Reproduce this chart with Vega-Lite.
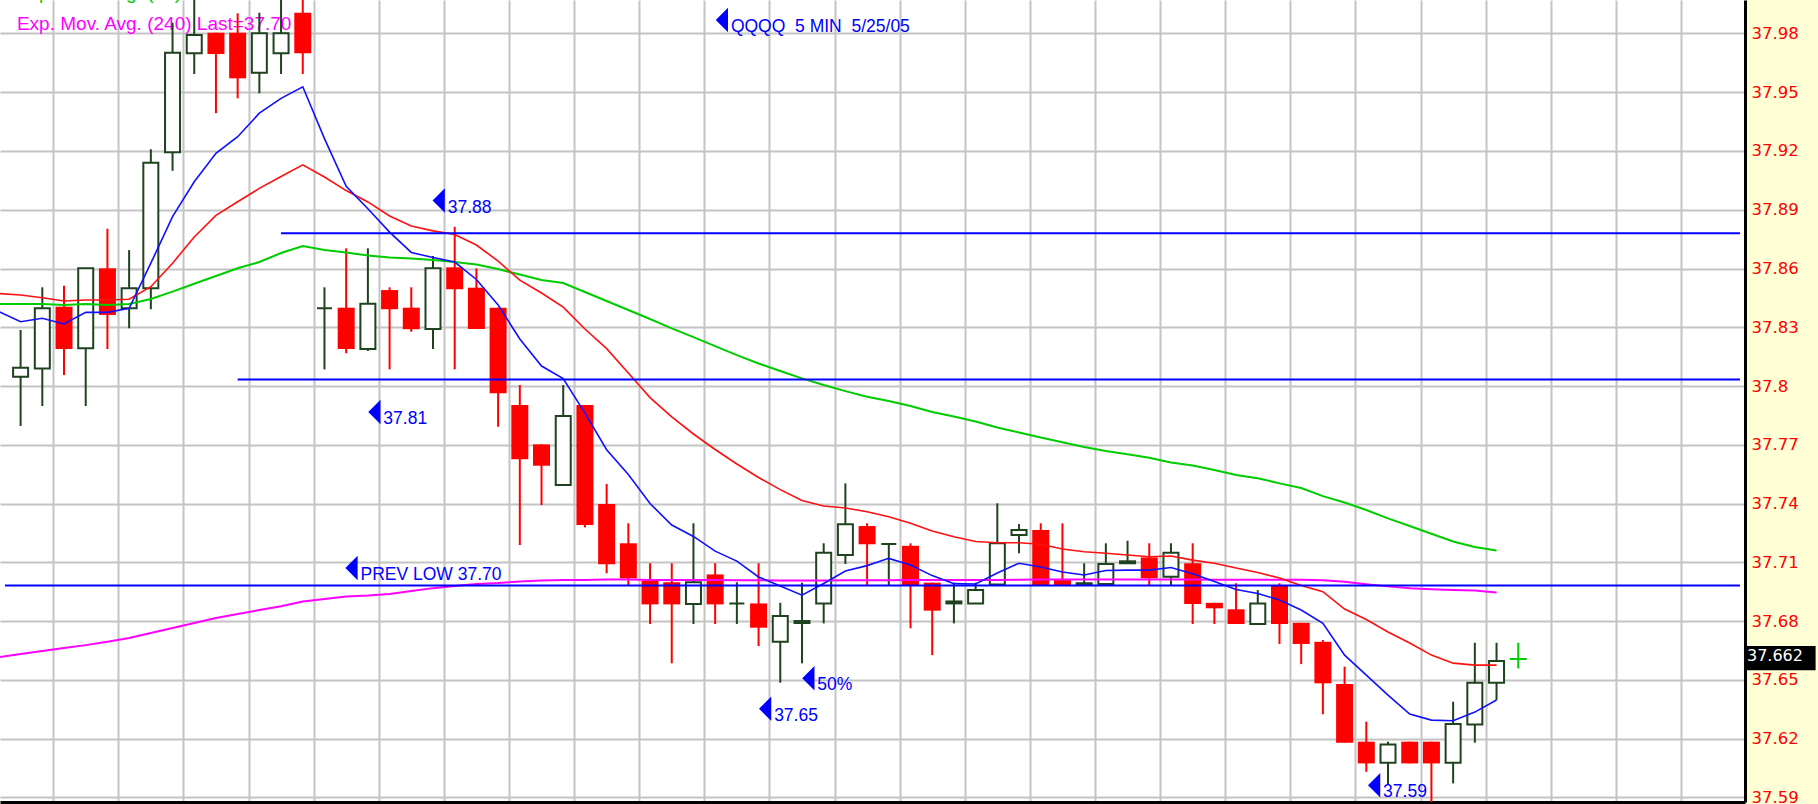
{
  "$schema": "https://vega.github.io/schema/vega-lite/v6.json",
  "width": 1745,
  "height": 802,
  "autosize": "none",
  "padding": {"left": 0, "top": 0, "right": 73, "bottom": 2},
  "background": "#FFFFD6",
  "view": {"fill": "#FFFFFF", "stroke": null},
  "config": {"font": "Liberation Sans"},
  "datasets": {
    "candles": [
      {"i":0,"o":37.8047,"h":37.8286,"l":37.7796,"c":37.8093},
      {"i":1,"o":37.809,"h":37.8504,"l":37.7898,"c":37.8397},
      {"i":2,"o":37.8405,"h":37.8512,"l":37.8056,"c":37.8189},
      {"i":3,"o":37.8193,"h":37.8601,"l":37.7898,"c":37.8601},
      {"i":4,"o":37.8601,"h":37.8803,"l":37.8189,"c":37.8363},
      {"i":5,"o":37.8397,"h":37.8694,"l":37.8295,"c":37.8499},
      {"i":6,"o":37.8499,"h":37.9209,"l":37.8392,"c":37.914},
      {"i":7,"o":37.9193,"h":37.9855,"l":37.9099,"c":37.9702},
      {"i":8,"o":37.9699,"h":38.01,"l":37.9593,"c":37.9792},
      {"i":9,"o":37.9804,"h":37.9804,"l":37.9393,"c":37.9695},
      {"i":10,"o":37.9804,"h":37.9903,"l":37.9469,"c":37.9571},
      {"i":11,"o":37.96,"h":37.9906,"l":37.9495,"c":37.9801},
      {"i":12,"o":37.9699,"h":38.01,"l":37.9593,"c":37.9801},
      {"i":13,"o":37.9906,"h":38.01,"l":37.9593,"c":37.9699},
      {"i":14,"o":37.8397,"h":37.8504,"l":37.8085,"c":37.8397},
      {"i":15,"o":37.84,"h":37.8703,"l":37.8167,"c":37.8189},
      {"i":16,"o":37.8189,"h":37.8703,"l":37.8179,"c":37.842},
      {"i":17,"o":37.849,"h":37.8504,"l":37.8085,"c":37.8392},
      {"i":18,"o":37.84,"h":37.8504,"l":37.8277,"c":37.829},
      {"i":19,"o":37.8291,"h":37.8664,"l":37.8189,"c":37.8601},
      {"i":20,"o":37.8606,"h":37.8813,"l":37.8085,"c":37.8494},
      {"i":21,"o":37.8502,"h":37.8601,"l":37.8291,"c":37.8291},
      {"i":22,"o":37.84,"h":37.84,"l":37.7792,"c":37.7963},
      {"i":23,"o":37.7903,"h":37.8005,"l":37.7188,"c":37.7626},
      {"i":24,"o":37.7702,"h":37.7702,"l":37.7392,"c":37.7593},
      {"i":25,"o":37.7494,"h":37.8005,"l":37.7494,"c":37.7847},
      {"i":26,"o":37.7903,"h":37.7903,"l":37.7278,"c":37.729},
      {"i":27,"o":37.7397,"h":37.75,"l":37.7044,"c":37.709},
      {"i":28,"o":37.7197,"h":37.7299,"l":37.6984,"c":37.7018},
      {"i":29,"o":37.7006,"h":37.7095,"l":37.6785,"c":37.6885},
      {"i":30,"o":37.6998,"h":37.7095,"l":37.6584,"c":37.6885},
      {"i":31,"o":37.6887,"h":37.7299,"l":37.6785,"c":37.6998},
      {"i":32,"o":37.7038,"h":37.7095,"l":37.6785,"c":37.6885},
      {"i":33,"o":37.689,"h":37.6998,"l":37.6785,"c":37.689},
      {"i":34,"o":37.689,"h":37.7095,"l":37.6672,"c":37.6766},
      {"i":35,"o":37.6694,"h":37.6893,"l":37.6485,"c":37.6826},
      {"i":36,"o":37.679,"h":37.6996,"l":37.6584,"c":37.68},
      {"i":37,"o":37.689,"h":37.7197,"l":37.6788,"c":37.7149},
      {"i":38,"o":37.7137,"h":37.7503,"l":37.7091,"c":37.7294},
      {"i":39,"o":37.7285,"h":37.7299,"l":37.6984,"c":37.7192},
      {"i":40,"o":37.7193,"h":37.7193,"l":37.6984,"c":37.7193},
      {"i":41,"o":37.7184,"h":37.7197,"l":37.6763,"c":37.6984},
      {"i":42,"o":37.6996,"h":37.6996,"l":37.6626,"c":37.6853},
      {"i":43,"o":37.689,"h":37.6996,"l":37.6788,"c":37.69},
      {"i":44,"o":37.689,"h":37.6996,"l":37.689,"c":37.6958},
      {"i":45,"o":37.6987,"h":37.7401,"l":37.6987,"c":37.7197},
      {"i":46,"o":37.7239,"h":37.7295,"l":37.7146,"c":37.7265},
      {"i":47,"o":37.7265,"h":37.7299,"l":37.6984,"c":37.6984},
      {"i":48,"o":37.7009,"h":37.7299,"l":37.6984,"c":37.6984},
      {"i":49,"o":37.6984,"h":37.7095,"l":37.6984,"c":37.6993},
      {"i":50,"o":37.6989,"h":37.7197,"l":37.6984,"c":37.7091},
      {"i":51,"o":37.7095,"h":37.721,"l":37.7095,"c":37.7105},
      {"i":52,"o":37.7125,"h":37.7197,"l":37.6984,"c":37.7018},
      {"i":53,"o":37.7026,"h":37.7197,"l":37.6984,"c":37.7149},
      {"i":54,"o":37.7095,"h":37.7197,"l":37.6785,"c":37.6887},
      {"i":55,"o":37.6893,"h":37.6893,"l":37.6785,"c":37.6865},
      {"i":56,"o":37.686,"h":37.6993,"l":37.6785,"c":37.6785},
      {"i":57,"o":37.6785,"h":37.6958,"l":37.6785,"c":37.689},
      {"i":58,"o":37.6984,"h":37.6993,"l":37.6683,"c":37.6785},
      {"i":59,"o":37.6791,"h":37.6791,"l":37.658,"c":37.6683},
      {"i":60,"o":37.6694,"h":37.6703,"l":37.6324,"c":37.6482},
      {"i":61,"o":37.6478,"h":37.6567,"l":37.6179,"c":37.6179},
      {"i":62,"o":37.6184,"h":37.6286,"l":37.603,"c":37.6073},
      {"i":63,"o":37.6077,"h":37.6184,"l":37.5963,"c":37.617},
      {"i":64,"o":37.6184,"h":37.6184,"l":37.6073,"c":37.6073},
      {"i":65,"o":37.6184,"h":37.6184,"l":37.585,"c":37.6073},
      {"i":66,"o":37.6077,"h":37.6388,"l":37.5971,"c":37.6274},
      {"i":67,"o":37.6272,"h":37.6689,"l":37.6179,"c":37.6485},
      {"i":68,"o":37.6485,"h":37.6689,"l":37.6397,"c":37.6596},
      {"i":69,"o":37.6606,"h":37.6689,"l":37.6558,"c":37.6606}
    ],
    "ma": [
      {"i":-1,"f":37.838,"m":37.8472,"s":37.8419,"e":37.6616},
      {"i":0,"f":37.8328,"m":37.8465,"s":37.8419,"e":37.6632},
      {"i":1,"f":37.8346,"m":37.8451,"s":37.8419,"e":37.6647},
      {"i":2,"f":37.8317,"m":37.8434,"s":37.8414,"e":37.6662},
      {"i":3,"f":37.8376,"m":37.8439,"s":37.8419,"e":37.6677},
      {"i":4,"f":37.8376,"m":37.8439,"s":37.8414,"e":37.6694},
      {"i":5,"f":37.8397,"m":37.8443,"s":37.8419,"e":37.6713},
      {"i":6,"f":37.8627,"m":37.8507,"s":37.8444,"e":37.6739},
      {"i":7,"f":37.8865,"m":37.8627,"s":37.8482,"e":37.6764},
      {"i":8,"f":37.9043,"m":37.8761,"s":37.8522,"e":37.679},
      {"i":9,"f":37.9188,"m":37.8871,"s":37.8562,"e":37.6815},
      {"i":10,"f":37.9273,"m":37.8941,"s":37.8601,"e":37.6836},
      {"i":11,"f":37.9393,"m":37.9009,"s":37.8633,"e":37.6856},
      {"i":12,"f":37.9469,"m":37.907,"s":37.8679,"e":37.6876},
      {"i":13,"f":37.9528,"m":37.9129,"s":37.8715,"e":37.69},
      {"i":14,"f":37.9263,"m":37.9067,"s":37.8694,"e":37.6912},
      {"i":15,"f":37.902,"m":37.8998,"s":37.8682,"e":37.6925},
      {"i":16,"f":37.8905,"m":37.894,"s":37.8666,"e":37.693},
      {"i":17,"f":37.8786,"m":37.8868,"s":37.8656,"e":37.6938},
      {"i":18,"f":37.8682,"m":37.8817,"s":37.8651,"e":37.6953},
      {"i":19,"f":37.8656,"m":37.8792,"s":37.8643,"e":37.6968},
      {"i":20,"f":37.8633,"m":37.8774,"s":37.8633,"e":37.6979},
      {"i":21,"f":37.8544,"m":37.872,"s":37.862,"e":37.6989},
      {"i":22,"f":37.8414,"m":37.8638,"s":37.8597,"e":37.6994},
      {"i":23,"f":37.824,"m":37.8541,"s":37.8569,"e":37.7002},
      {"i":24,"f":37.8102,"m":37.8475,"s":37.8541,"e":37.7007},
      {"i":25,"f":37.8038,"m":37.8403,"s":37.8526,"e":37.701},
      {"i":26,"f":37.7862,"m":37.8291,"s":37.848,"e":37.701},
      {"i":27,"f":37.7675,"m":37.8191,"s":37.8434,"e":37.7012},
      {"i":28,"f":37.7548,"m":37.8066,"s":37.8388,"e":37.7012},
      {"i":29,"f":37.74,"m":37.7941,"s":37.8342,"e":37.701},
      {"i":30,"f":37.729,"m":37.7842,"s":37.8294,"e":37.701},
      {"i":31,"f":37.7232,"m":37.7755,"s":37.825,"e":37.7009},
      {"i":32,"f":37.7157,"m":37.7676,"s":37.8204,"e":37.7009},
      {"i":33,"f":37.7106,"m":37.7602,"s":37.8158,"e":37.7008},
      {"i":34,"f":37.7025,"m":37.7533,"s":37.8115,"e":37.7008},
      {"i":35,"f":37.6979,"m":37.7471,"s":37.8077,"e":37.7007},
      {"i":36,"f":37.6932,"m":37.7415,"s":37.8039,"e":37.7007},
      {"i":37,"f":37.6992,"m":37.7387,"s":37.8005,"e":37.7007},
      {"i":38,"f":37.7055,"m":37.7377,"s":37.7974,"e":37.7008},
      {"i":39,"f":37.7083,"m":37.7358,"s":37.7945,"e":37.7008},
      {"i":40,"f":37.712,"m":37.7333,"s":37.7923,"e":37.7008},
      {"i":41,"f":37.7086,"m":37.7299,"s":37.7898,"e":37.7009},
      {"i":42,"f":37.7032,"m":37.726,"s":37.7867,"e":37.7009},
      {"i":43,"f":37.6991,"m":37.723,"s":37.7844,"e":37.7009},
      {"i":44,"f":37.6989,"m":37.7206,"s":37.7819,"e":37.701},
      {"i":45,"f":37.7045,"m":37.72,"s":37.7788,"e":37.701},
      {"i":46,"f":37.7095,"m":37.72,"s":37.7763,"e":37.7011},
      {"i":47,"f":37.7076,"m":37.7192,"s":37.7737,"e":37.7012},
      {"i":48,"f":37.705,"m":37.7168,"s":37.7713,"e":37.7012},
      {"i":49,"f":37.7035,"m":37.7154,"s":37.7689,"e":37.7012},
      {"i":50,"f":37.7058,"m":37.7146,"s":37.7668,"e":37.7012},
      {"i":51,"f":37.706,"m":37.7137,"s":37.7652,"e":37.7012},
      {"i":52,"f":37.706,"m":37.7128,"s":37.7634,"e":37.7012},
      {"i":53,"f":37.7073,"m":37.7132,"s":37.761,"e":37.7012},
      {"i":54,"f":37.7042,"m":37.7111,"s":37.7594,"e":37.7012},
      {"i":55,"f":37.7002,"m":37.7095,"s":37.7571,"e":37.7011},
      {"i":56,"f":37.6961,"m":37.7071,"s":37.7546,"e":37.7011},
      {"i":57,"f":37.6941,"m":37.7048,"s":37.7529,"e":37.7011},
      {"i":58,"f":37.6907,"m":37.702,"s":37.7503,"e":37.7011},
      {"i":59,"f":37.6856,"m":37.6981,"s":37.7479,"e":37.7011},
      {"i":60,"f":37.6788,"m":37.695,"s":37.7438,"e":37.7008},
      {"i":61,"f":37.6626,"m":37.6861,"s":37.7405,"e":37.7001},
      {"i":62,"f":37.6524,"m":37.6808,"s":37.7367,"e":37.6988},
      {"i":63,"f":37.6422,"m":37.6744,"s":37.7324,"e":37.6977},
      {"i":64,"f":37.6325,"m":37.6688,"s":37.7285,"e":37.6967},
      {"i":65,"f":37.6294,"m":37.6626,"s":37.7246,"e":37.6962},
      {"i":66,"f":37.6291,"m":37.6585,"s":37.7206,"e":37.6959},
      {"i":67,"f":37.6335,"m":37.6575,"s":37.7178,"e":37.6956},
      {"i":68,"f":37.6397,"m":37.6575,"s":37.716,"e":37.6946}
    ],
    "levels": [
      {"x1":12,"x2":79.217,"v":37.878},
      {"x1":10,"x2":79.217,"v":37.8033},
      {"x1":-0.719,"x2":79.217,"v":37.6981}
    ],
    "notes": [
      {"i":32.31,"v":37.9869,"label":"QQQQ\u00a0\u00a05 MIN\u00a0\u00a05/25/05"},
      {"i":19.263,"v":37.8947,"label":"37.88"},
      {"i":16.299,"v":37.7867,"label":"37.81"},
      {"i":15.245,"v":37.7071,"label":"PREV LOW 37.70"},
      {"i":36.294,"v":37.6508,"label":"50%"},
      {"i":34.302,"v":37.6352,"label":"37.65"},
      {"i":62.36,"v":37.5961,"label":"37.59"}
    ]
  },
  "layer": [
    {
      "data": {"name": "candles"},
      "mark": {"type": "rule", "opacity": 0},
      "encoding": {
        "x": {"field": "i", "type": "quantitative",
          "scale": {"domain": [-0.719, 79.217], "nice": false, "zero": false},
          "axis": {"orient": "bottom", "values": [1.5,4.5,7.5,10.5,13.5,16.5,19.5,22.5,25.5,28.5,31.5,34.5,37.5,40.5,43.5,46.5,49.5,52.5,55.5,58.5,61.5,64.5,67.5,70.5,73.5,76.5],
            "grid": true, "gridColor": "#C4C4C4", "gridWidth": 2, "gridOpacity": 1,
            "labels": false, "ticks": false, "domain": true, "domainColor": "#000000", "domainWidth": 3, "title": null}},
        "y": {"field": "l", "type": "quantitative",
          "scale": {"domain": [37.5876, 37.9971], "nice": false, "zero": false},
          "axis": {"orient": "right", "values": [37.59,37.62,37.65,37.68,37.71,37.74,37.77,37.8,37.83,37.86,37.89,37.92,37.95,37.98],
            "grid": true, "gridColor": "#C4C4C4", "gridWidth": 2, "gridOpacity": 1,
            "ticks": false, "domain": true, "domainColor": "#000000", "domainWidth": 3,
            "labelColor": "#FF0000", "labelFont": "DejaVu Sans", "labelFontSize": 16.5, "labelPadding": 6,
            "labelExpr": "'' + round(datum.value * 100) / 100", "labelOverlap": false, "labelBound": false, "title": null}}
      }
    },
    {
      "mark": {"type": "rule", "color": "#A8A8A8", "strokeWidth": 3},
      "encoding": {
        "x": {"datum": 13.5, "type": "quantitative", "scale": {"domain": [-0.719, 79.217], "nice": false, "zero": false}}
      }
    },
    {
      "mark": {"type": "rule", "color": "#000000", "strokeWidth": 2},
      "encoding": {
        "x": {"datum": -0.444, "type": "quantitative", "scale": {"domain": [-0.719, 79.217], "nice": false, "zero": false}}
      }
    },
    {
      "data": {"values": [
        {"i": -0.169, "v": 37.9976, "t": "Exp. Mov. Avg. (50) Last=37.72", "k": "g"},
        {"i": -0.169, "v": 37.982, "t": "Exp. Mov. Avg. (240) Last=37.70", "k": "m"}
      ]},
      "mark": {"type": "text", "align": "left", "baseline": "alphabetic", "fontSize": 19, "font": "Liberation Sans"},
      "encoding": {
        "x": {"field": "i", "type": "quantitative", "scale": {"domain": [-0.719, 79.217], "nice": false, "zero": false}},
        "y": {"field": "v", "type": "quantitative", "scale": {"domain": [37.5876, 37.9971], "nice": false, "zero": false}},
        "text": {"field": "t"},
        "color": {"field": "k", "type": "nominal", "scale": {"domain": ["g", "m"], "range": ["#00CC00", "#FF00FF"]}, "legend": null}
      }
    },
    {
      "data": {"name": "candles"},
      "transform": [{"calculate": "datum.i == 69 ? 'last' : (datum.c >= datum.o ? 'up' : 'down')", "as": "dir"}],
      "mark": {"type": "rule", "strokeWidth": 2, "clip": true},
      "encoding": {
        "x": {"field": "i", "type": "quantitative", "scale": {"domain": [-0.719, 79.217], "nice": false, "zero": false}},
        "y": {"field": "l", "type": "quantitative", "scale": {"domain": [37.5876, 37.9971], "nice": false, "zero": false}},
        "y2": {"field": "h"},
        "stroke": {"field": "dir", "type": "nominal", "scale": {"domain": ["up", "down", "last"], "range": ["#1F421F", "#FF0000", "#00CC00"]}, "legend": null}
      }
    },
    {
      "data": {"name": "candles"},
      "transform": [{"filter": "datum.i != 69 && datum.c >= datum.o"}],
      "mark": {"type": "bar", "width": 15, "fill": "#FFFFFF", "stroke": "#1F421F", "strokeWidth": 2, "clip": true},
      "encoding": {
        "x": {"field": "i", "type": "quantitative", "scale": {"domain": [-0.719, 79.217], "nice": false, "zero": false}},
        "y": {"field": "o", "type": "quantitative", "scale": {"domain": [37.5876, 37.9971], "nice": false, "zero": false}},
        "y2": {"field": "c"}
      }
    },
    {
      "data": {"name": "candles"},
      "transform": [{"filter": "datum.c < datum.o"}],
      "mark": {"type": "bar", "width": 17, "fill": "#FF0000", "clip": true},
      "encoding": {
        "x": {"field": "i", "type": "quantitative", "scale": {"domain": [-0.719, 79.217], "nice": false, "zero": false}},
        "y": {"field": "o", "type": "quantitative", "scale": {"domain": [37.5876, 37.9971], "nice": false, "zero": false}},
        "y2": {"field": "c"}
      }
    },
    {
      "data": {"name": "candles"},
      "transform": [{"filter": "datum.i == 69"}],
      "mark": {"type": "bar", "width": 17, "fill": null, "stroke": "#00CC00", "strokeWidth": 2},
      "encoding": {
        "x": {"field": "i", "type": "quantitative", "scale": {"domain": [-0.719, 79.217], "nice": false, "zero": false}},
        "y": {"field": "o", "type": "quantitative", "scale": {"domain": [37.5876, 37.9971], "nice": false, "zero": false}},
        "y2": {"field": "c"}
      }
    },
    {
      "data": {"name": "ma"},
      "mark": {"type": "line", "color": "#FF00FF", "strokeWidth": 2, "clip": true},
      "encoding": {
        "x": {"field": "i", "type": "quantitative", "scale": {"domain": [-0.719, 79.217], "nice": false, "zero": false}},
        "y": {"field": "e", "type": "quantitative", "scale": {"domain": [37.5876, 37.9971], "nice": false, "zero": false}}
      }
    },
    {
      "data": {"name": "ma"},
      "mark": {"type": "line", "color": "#00CC00", "strokeWidth": 2, "clip": true},
      "encoding": {
        "x": {"field": "i", "type": "quantitative", "scale": {"domain": [-0.719, 79.217], "nice": false, "zero": false}},
        "y": {"field": "s", "type": "quantitative", "scale": {"domain": [37.5876, 37.9971], "nice": false, "zero": false}}
      }
    },
    {
      "data": {"name": "ma"},
      "mark": {"type": "line", "color": "#FF1010", "strokeWidth": 1.6, "clip": true},
      "encoding": {
        "x": {"field": "i", "type": "quantitative", "scale": {"domain": [-0.719, 79.217], "nice": false, "zero": false}},
        "y": {"field": "m", "type": "quantitative", "scale": {"domain": [37.5876, 37.9971], "nice": false, "zero": false}}
      }
    },
    {
      "data": {"name": "ma"},
      "mark": {"type": "line", "color": "#1010FF", "strokeWidth": 1.6, "clip": true},
      "encoding": {
        "x": {"field": "i", "type": "quantitative", "scale": {"domain": [-0.719, 79.217], "nice": false, "zero": false}},
        "y": {"field": "f", "type": "quantitative", "scale": {"domain": [37.5876, 37.9971], "nice": false, "zero": false}}
      }
    },
    {
      "data": {"name": "levels"},
      "mark": {"type": "rule", "color": "#0000FF", "strokeWidth": 2, "clip": true},
      "encoding": {
        "x": {"field": "x1", "type": "quantitative", "scale": {"domain": [-0.719, 79.217], "nice": false, "zero": false}},
        "x2": {"field": "x2"},
        "y": {"field": "v", "type": "quantitative", "scale": {"domain": [37.5876, 37.9971], "nice": false, "zero": false}}
      }
    },
    {
      "data": {"name": "notes"},
      "mark": {"type": "point", "shape": "M0.5,-1L-0.5,0L0.5,1Z", "size": 600, "filled": true, "color": "#0000FF", "opacity": 1},
      "encoding": {
        "x": {"field": "i", "type": "quantitative", "scale": {"domain": [-0.719, 79.217], "nice": false, "zero": false}},
        "y": {"field": "v", "type": "quantitative", "scale": {"domain": [37.5876, 37.9971], "nice": false, "zero": false}}
      }
    },
    {
      "data": {"name": "notes"},
      "mark": {"type": "text", "align": "left", "baseline": "alphabetic", "dx": 9, "dy": 12, "fontSize": 17.5, "font": "Liberation Sans", "color": "#0000FF"},
      "encoding": {
        "x": {"field": "i", "type": "quantitative", "scale": {"domain": [-0.719, 79.217], "nice": false, "zero": false}},
        "y": {"field": "v", "type": "quantitative", "scale": {"domain": [37.5876, 37.9971], "nice": false, "zero": false}},
        "text": {"field": "label"}
      }
    },
    {
      "data": {"values": [{"last": 37.662}]},
      "mark": {"type": "rect", "color": "#000000"},
      "encoding": {
        "x": {"datum": 79.4, "type": "quantitative", "scale": {"domain": [-0.719, 79.217], "nice": false, "zero": false}},
        "x2": {"datum": 82.7},
        "y": {"datum": 37.6673, "type": "quantitative", "scale": {"domain": [37.5876, 37.9971], "nice": false, "zero": false}},
        "y2": {"datum": 37.6549}
      }
    },
    {
      "data": {"values": [{"last": 37.662}]},
      "mark": {"type": "text", "align": "left", "baseline": "middle", "dx": 3, "color": "#FFFFFF", "font": "DejaVu Sans", "fontSize": 16},
      "encoding": {
        "x": {"datum": 79.4, "type": "quantitative", "scale": {"domain": [-0.719, 79.217], "nice": false, "zero": false}},
        "y": {"field": "last", "type": "quantitative", "scale": {"domain": [37.5876, 37.9971], "nice": false, "zero": false}},
        "text": {"field": "last", "type": "quantitative", "format": ".3f"}
      }
    }
  ]
}
